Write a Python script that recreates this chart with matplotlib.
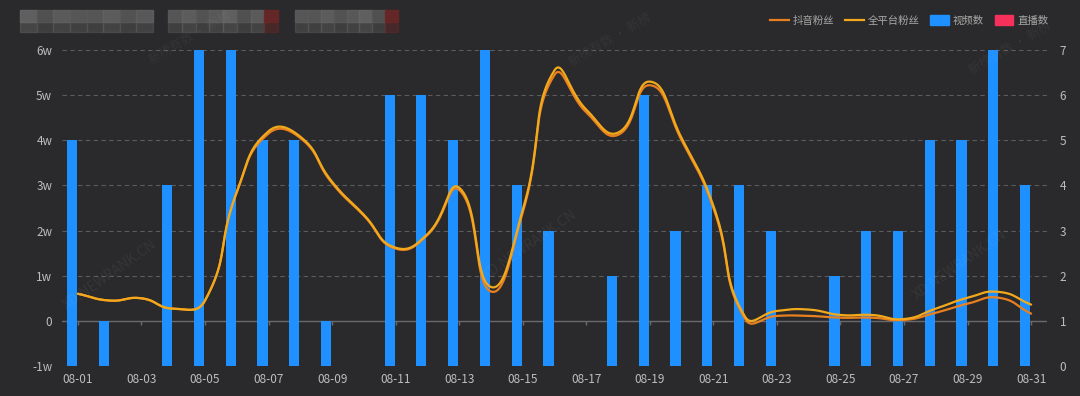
import numpy as np
import matplotlib.pyplot as plt
from matplotlib.lines import Line2D
from matplotlib.patches import Patch, Rectangle

plt.rcParams['font.family'] = ['Noto Sans CJK SC', 'DejaVu Sans']

# data
dates = ['08-%02d' % d for d in range(1, 32)]
videos = [5, 1, 0, 4, 7, 7, 5, 5, 1, 0, 6, 6, 5, 7, 4, 3, 0, 2, 6, 3,
          4, 4, 3, 0, 2, 3, 3, 5, 5, 7, 4]
lives = [0] * 31
# fans, unit: w (10k)
douyin_fans = [0.60, 0.45, 0.50, 0.27, 0.45, 2.85, 4.15, 4.05, 3.05, 2.33,
               1.60, 1.90, 2.90, 0.65, 2.40, 5.45, 4.62, 4.12, 5.22, 4.00,
               2.50, 0.04, 0.11, 0.11, 0.07, 0.07, 0.02, 0.18, 0.38, 0.51, 0.16]
all_fans = [0.60, 0.45, 0.50, 0.27, 0.45, 2.85, 4.20, 4.08, 3.08, 2.35,
            1.62, 1.92, 2.95, 0.75, 2.45, 5.55, 4.68, 4.17, 5.30, 4.05,
            2.55, 0.09, 0.22, 0.25, 0.13, 0.13, 0.04, 0.27, 0.51, 0.64, 0.36]

BG = '#2a2a2c'
TXT = '#bdbdbd'
GRID = '#5c5c5e'
BLUE = '#1e90ff'
RED = '#f5305a'
ORANGE = '#e8801f'
GOLD = '#f2aa1c'


def smooth_curve(xs, ys, sx=31.8, sy=45.0, smooth=0.5, n=24):
    # echarts-like bezier smoothing, computed in pixel-ish space
    P = np.column_stack([np.asarray(xs, float) * sx, np.asarray(ys, float) * sy])
    m = len(P)
    cps = []
    for i in range(m):
        prev = P[max(i - 1, 0)]
        nxt = P[min(i + 1, m - 1)]
        v = (nxt - prev) * smooth
        d0 = np.linalg.norm(P[i] - prev)
        d1 = np.linalg.norm(P[i] - nxt)
        r = d0 / (d0 + d1) if d0 + d1 > 0 else 0.5
        cps.append((P[i] - v * r, P[i] + v * (1 - r)))
    out = [P[0]]
    t = np.linspace(0, 1, n)[1:, None]
    for i in range(m - 1):
        p0, p3 = P[i], P[i + 1]
        p1, p2 = cps[i][1], cps[i + 1][0]
        seg = ((1 - t) ** 3) * p0 + 3 * ((1 - t) ** 2) * t * p1 + 3 * (1 - t) * t ** 2 * p2 + t ** 3 * p3
        out.extend(seg)
    out = np.array(out)
    return out[:, 0] / sx, out[:, 1] / sy


fig = plt.figure(figsize=(10.8, 3.96), dpi=100, facecolor=BG)
ax = fig.add_axes([62 / 1080, 30 / 396, 985 / 1080, 316 / 396])
ax.set_facecolor(BG)
ax2 = ax.twinx()
x = np.arange(len(dates))

# bars on right scale
ax.set_ylim(0, 7)
ax.set_xlim(-0.5, len(dates) - 0.5)
for v in [0, 2, 3, 4, 5, 6, 7]:
    ax.axhline(v, color=GRID, lw=0.8, ls=(0, (4, 3)), zorder=0)
ax.axhline(1, color='#6a6a6c', lw=1.0, zorder=0)
ax.bar(x - 0.19, videos, width=0.32, color=BLUE, zorder=2)
ax.bar(x + 0.19, lives, width=0.32, color=RED, zorder=2)
ax.set_yticks(range(0, 8))
ax.set_xticks(x[::2])
ax.set_xticklabels(dates[::2])
ax.tick_params(axis='x', length=0, pad=5, colors=TXT, labelsize=8.5)
for s in ax.spines.values():
    s.set_visible(False)

# lines on left scale
ax2.set_ylim(-1, 6)
ax2.set_yticks(range(-1, 7))
ax2.set_yticklabels(['-1w', '0', '1w', '2w', '3w', '4w', '5w', '6w'])
for s in ax2.spines.values():
    s.set_visible(False)
ax2.vlines(x[::2], -0.09, 0, color='#6a6a6c', lw=1.0, zorder=1)

# put bar counts on the right, fans on the left
ax.yaxis.tick_right()
ax.tick_params(axis='y', length=0, pad=9, colors=TXT, labelsize=8.5)
ax2.yaxis.tick_left()
ax2.tick_params(axis='y', length=0, pad=7, colors=TXT, labelsize=8.5)

sx, sy = smooth_curve(x, douyin_fans)
ax2.plot(sx, sy, color=ORANGE, lw=1.6, zorder=3, solid_capstyle='round')
sx, sy = smooth_curve(x, all_fans)
ax2.plot(sx, sy, color=GOLD, lw=1.6, zorder=4, solid_capstyle='round')

# legend
handles = [Line2D([], [], color=ORANGE, lw=1.6),
           Line2D([], [], color=GOLD, lw=1.6),
           Patch(color=BLUE), Patch(color=RED)]
labels = ['抖音粉丝', '全平台粉丝', '视频数', '直播数']
fig.legend(handles, labels, loc='upper right', bbox_to_anchor=(1058 / 1080, 1 - 6 / 396),
           ncol=4, frameon=False, fontsize=7.5, labelcolor='#a8a8a8',
           handlelength=1.8, handleheight=1.1, handletextpad=0.4, columnspacing=1.0)

# blurred title placeholder (top left)
grays = ['#5a5a5a', '#626262', '#575757', '#5e5e5e', '#666666', '#555555', '#606060', '#5b5b5b']
blocks = [(20, 133, None), (168, 110, '#6b2626'), (295, 103, '#6b2626')]
for bx, bw, endc in blocks:
    nt = 8
    tw = bw / nt
    for k in range(nt):
        c = grays[(k + bx) % len(grays)]
        if endc is not None and k == nt - 1:
            c = endc
        fig.patches.append(Rectangle(((bx + k * tw) / 1080, 1 - 22 / 396), tw / 1080, 12 / 396,
                                     transform=fig.transFigure, color=c, alpha=0.9))
        fig.patches.append(Rectangle(((bx + k * tw) / 1080, 1 - 32 / 396), tw / 1080, 10 / 396,
                                     transform=fig.transFigure, color=c, alpha=0.45))

# faint watermarks
for wx, wy in [(190, 38), (610, 40), (1010, 48)]:
    fig.text(wx / 1080, 1 - wy / 396, '新榜有数 · 新榜', color='white', alpha=0.05,
             rotation=30, fontsize=9, ha='center', va='center')
for wx, wy in [(110, 275), (530, 245), (960, 265)]:
    fig.text(wx / 1080, 1 - wy / 396, 'XD.NEWRANK.CN', color='white', alpha=0.06,
             rotation=35, fontsize=10, ha='center', va='center')

fig.savefig('out.png', dpi=100, facecolor=BG)
